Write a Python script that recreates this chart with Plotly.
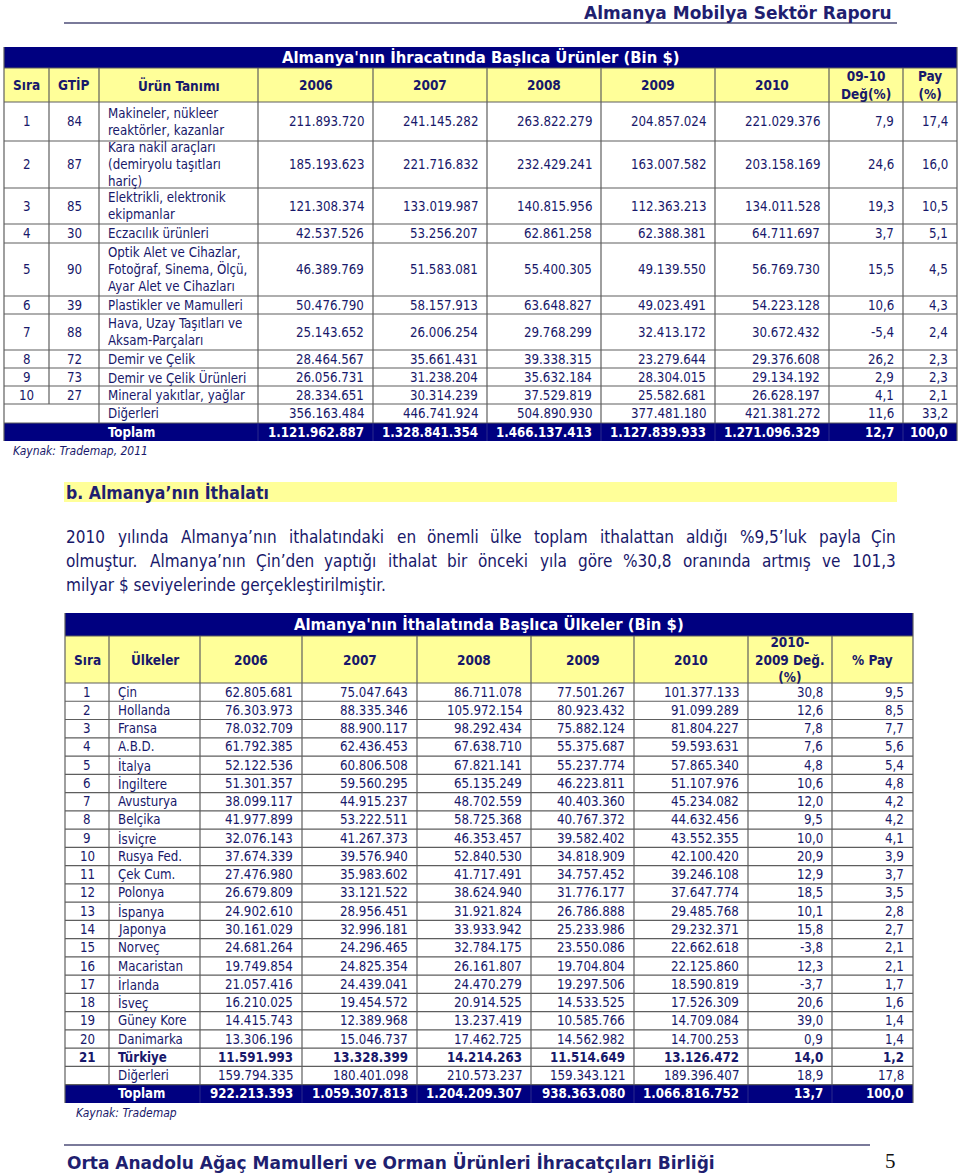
import plotly.graph_objects as go

# ---- table 1: Almanya'nın ihracatı (Bin $) ----
ex_sira = ["1", "2", "3", "4", "5", "6", "7", "8", "9", "10", "", ""]
ex_gtip = ["84", "87", "85", "30", "90", "39", "88", "72", "73", "27", "", ""]
ex_urun = ["Makineler, nükleer<br>reaktörler, kazanlar",
           "Kara nakil araçları<br>(demiryolu taşıtları<br>hariç)",
           "Elektrikli, elektronik<br>ekipmanlar",
           "Eczacılık ürünleri",
           "Optik Alet ve Cihazlar,<br>Fotoğraf, Sinema, Ölçü,<br>Ayar Alet ve Cihazları",
           "Plastikler ve Mamulleri",
           "Hava, Uzay Taşıtları ve<br>Aksam-Parçaları",
           "Demir ve Çelik",
           "Demir ve Çelik Ürünleri",
           "Mineral yakıtlar, yağlar",
           "Diğerleri",
           "Toplam"]
ex_2006 = [211893720, 185193623, 121308374, 42537526, 46389769, 50476790, 25143652, 28464567, 26056731, 28334651, 356163484, 1121962887]
ex_2007 = [241145282, 221716832, 133019987, 53256207, 51583081, 58157913, 26006254, 35661431, 31238204, 30314239, 446741924, 1328841354]
ex_2008 = [263822279, 232429241, 140815956, 62861258, 55400305, 63648827, 29768299, 39338315, 35632184, 37529819, 504890930, 1466137413]
ex_2009 = [204857024, 163007582, 112363213, 62388381, 49139550, 49023491, 32413172, 23279644, 28304015, 25582681, 377481180, 1127839933]
ex_2010 = [221029376, 203158169, 134011528, 64711697, 56769730, 54223128, 30672432, 29376608, 29134192, 26628197, 421381272, 1271096329]
ex_deg = [7.9, 24.6, 19.3, 3.7, 15.5, 10.6, -5.4, 26.2, 2.9, 4.1, 11.6, 12.7]
ex_pay = [17.4, 16.0, 10.5, 5.1, 4.5, 4.3, 2.4, 2.3, 2.3, 2.1, 33.2, 100.0]
ex_heads = ["Sıra", "GTİP", "Ürün Tanımı", "2006", "2007", "2008", "2009", "2010", "09-10<br>Değ(%)", "Pay<br>(%)"]
ex_title = "Almanya'nın İhracatında Başlıca Ürünler (Bin $)"

# ---- table 2: Almanya'nın ithalatı (Bin $) ----
im_sira = [str(i) for i in range(1, 22)] + ["", ""]
im_ulke = ["Çin", "Hollanda", "Fransa", "A.B.D.", "İtalya", "İngiltere", "Avusturya", "Belçika", "İsviçre",
           "Rusya Fed.", "Çek Cum.", "Polonya", "İspanya", "Japonya", "Norveç", "Macaristan", "İrlanda",
           "İsveç", "Güney Kore", "Danimarka", "Türkiye", "Diğerleri", "Toplam"]
im_2006 = [62805681, 76303973, 78032709, 61792385, 52122536, 51301357, 38099117, 41977899, 32076143, 37674339,
           27476980, 26679809, 24902610, 30161029, 24681264, 19749854, 21057416, 16210025, 14415743, 13306196,
           11591993, 159794335, 922213393]
im_2007 = [75047643, 88335346, 88900117, 62436453, 60806508, 59560295, 44915237, 53222511, 41267373, 39576940,
           35983602, 33121522, 28956451, 32996181, 24296465, 24825354, 24439041, 19454572, 12389968, 15046737,
           13328399, 180401098, 1059307813]
im_2008 = [86711078, 105972154, 98292434, 67638710, 67821141, 65135249, 48702559, 58725368, 46353457, 52840530,
           41717491, 38624940, 31921824, 33933942, 32784175, 26161807, 24470279, 20914525, 13237419, 17462725,
           14214263, 210573237, 1204209307]
im_2009 = [77501267, 80923432, 75882124, 55375687, 55237774, 46223811, 40403360, 40767372, 39582402, 34818909,
           34757452, 31776177, 26786888, 25233986, 23550086, 19704804, 19297506, 14533525, 10585766, 14562982,
           11514649, 159343121, 938363080]
im_2010 = [101377133, 91099289, 81804227, 59593631, 57865340, 51107976, 45234082, 44632456, 43552355, 42100420,
           39246108, 37647774, 29485768, 29232371, 22662618, 22125860, 18590819, 17526309, 14709084, 14700253,
           13126472, 189396407, 1066816752]
im_deg = [30.8, 12.6, 7.8, 7.6, 4.8, 10.6, 12.0, 9.5, 10.0, 20.9, 12.9, 18.5, 10.1, 15.8, -3.8, 12.3, -3.7,
          20.6, 39.0, 0.9, 14.0, 18.9, 13.7]
im_pay = [9.5, 8.5, 7.7, 5.6, 5.4, 4.8, 4.2, 4.2, 4.1, 3.9, 3.7, 3.5, 2.8, 2.7, 2.1, 2.1, 1.7, 1.6, 1.4, 1.4,
          1.2, 17.8, 100.0]
im_heads = ["Sıra", "Ülkeler", "2006", "2007", "2008", "2009", "2010", "2010-<br>2009 Değ.<br>(%)", "% Pay"]
im_title = "Almanya'nın İthalatında Başlıca Ülkeler (Bin $)"

page_head = "Almanya Mobilya Sektör Raporu"
page_foot = "Orta Anadolu Ağaç Mamulleri ve Orman Ürünleri İhracatçıları Birliği"
page_no = "5"
section = "b. Almanya’nın İthalatı"
para = ["2010 yılında Almanya’nın ithalatındaki en önemli ülke toplam ithalattan aldığı %9,5’luk payla Çin",
        "olmuştur. Almanya’nın Çin’den yaptığı ithalat bir önceki yıla göre %30,8 oranında artmış ve 101,3",
        "milyar $ seviyelerinde gerçekleştirilmiştir."]

# ---- styling / layout ----
NAVY = "#000080"
YELLOW = "#ffff99"
INK = "#18186a"
GRID = "#5e5e5e"
FONT = "DejaVu Sans Condensed, DejaVu Sans, sans-serif"
WIDE = "DejaVu Sans, sans-serif"
PAD = 8

shapes = []
annos = []


def tr_int(v):
    return f"{v:,}".replace(",", ".")


def tr_pct(v):
    return f"{v:.1f}".replace(".", ",")


def rect(x0, y0, x1, y1, fill):
    shapes.append(dict(type="rect", x0=x0, x1=x1, y0=y0, y1=y1, fillcolor=fill,
                       line_width=0, layer="below"))


def line(x0, y0, x1, y1, color=GRID, width=1.2):
    shapes.append(dict(type="line", x0=x0, x1=x1, y0=y0, y1=y1,
                       line=dict(color=color, width=width)))


def text(x, y, s, anchor="center", size=13, color=INK, bold=False, italic=False, family=FONT):
    annos.append(dict(x=x, y=y, text=f"<b>{s}</b>" if bold else s, xanchor=anchor, yanchor="middle",
                      align=anchor, showarrow=False, borderpad=0,
                      font=dict(family=family, size=size, color=color,
                                style="italic" if italic else "normal")))


def draw_table(xs, top, title_h, head_h, heights, title, heads, cols, aligns,
               bold_rows=(), merged_first=False, sum_from=2):
    y_head = top + title_h
    y_rows = y_head + head_h
    bounds = [y_rows]
    for h in heights:
        bounds.append(bounds[-1] + h)
    n = len(heights)
    rect(xs[0], top, xs[-1], y_head, NAVY)
    rect(xs[0], y_head, xs[-1], y_rows, YELLOW)
    rect(xs[0], bounds[n - 1], xs[-1], bounds[n], NAVY)
    for y in [y_head] + bounds[:n]:
        line(xs[0], y, xs[-1], y)
    for i, x in enumerate(xs):
        if i == 0 or i == len(xs) - 1:
            line(x, top, x, bounds[n])
            continue
        end = bounds[n - 2] if (merged_first and i == 1) else bounds[n - 1]
        line(x, y_head, x, end)
        if i >= sum_from:
            line(x, bounds[n - 1], x, bounds[n], "#2b2b8c", 1)
    text((xs[0] + xs[-1]) / 2, (top + y_head) / 2, title, size=16.5, color="white", bold=True)
    for j, h in enumerate(heads):
        text((xs[j] + xs[j + 1]) / 2, (y_head + y_rows) / 2, h, size=13.5, bold=True)
    for r in range(n):
        yc = (bounds[r] + bounds[r + 1]) / 2
        total = r == n - 1
        for j, col in enumerate(cols):
            s = col[r]
            if s == "":
                continue
            a = aligns[j]
            if a == "center":
                x = (xs[j] + xs[j + 1]) / 2
            elif a == "left":
                x = xs[j] + PAD
            else:
                x = xs[j + 1] - PAD
            text(x, yc, s, a, 13.2, "white" if total else INK, bold=total or r in bold_rows)
    return bounds[n]


# rough glyph widths (em) for justifying the paragraph
NARROW = set("iılIjf.,’'!:;|")
SEMI = set("trJ()-")
WIDEG = set("mwMW%")


def word_w(w, size):
    em = 0
    for c in w:
        if c in NARROW:
            em += 0.27
        elif c in SEMI:
            em += 0.38
        elif c in WIDEG:
            em += 0.88
        elif c.isupper() or c.isdigit() or c == "$":
            em += 0.62
        else:
            em += 0.56
    return em * size


def justify(s, x0, x1, y, size):
    words = s.split()
    ws = [word_w(w, size) for w in words]
    gap = (x1 - x0 - sum(ws)) / (len(words) - 1)
    pos = x0
    for k, (w, wd) in enumerate(zip(words, ws)):
        if k == 0:
            text(x0, y, w, "left", size)
        elif k == len(words) - 1:
            text(x1, y, w, "right", size)
        else:
            text(pos + wd / 2, y, w, "center", size)
        pos += wd + gap


# page header / footer
text(893, 13, page_head, "right", 17, "#1f1f70", bold=True, family=WIDE)
line(64, 23, 897, 23, "#7a7a9a", 2.2)
line(64, 1145, 870, 1145, "#7a7a9a", 2.2)
text(66, 1162, page_foot, "left", 17, "#1f1f70", bold=True, family=WIDE)
text(890, 1161, page_no, "center", 21, "#111111", family="Liberation Serif, serif")

# table 1
xs1 = [4, 49, 99, 258, 373, 487, 601, 715, 829, 903, 957]
rh1 = [39, 47, 36, 19, 53, 18, 36, 18, 18, 18, 19, 18]
cols1 = [ex_sira, ex_gtip, ex_urun] + [[tr_int(v) for v in c] for c in (ex_2006, ex_2007, ex_2008, ex_2009, ex_2010)] \
        + [[tr_pct(v) for v in ex_deg], [tr_pct(v) for v in ex_pay]]
al1 = ["center", "center", "left"] + ["right"] * 7
b1 = draw_table(xs1, 47, 21, 34, rh1, ex_title, ex_heads, cols1, al1, merged_first=True, sum_from=3)
text(12, b1 + 10, "Kaynak: Trademap, 2011", "left", 12, INK, italic=True)

# section b
rect(64, 482, 897, 502, YELLOW)
text(65, 492, section, "left", 17.5, "#1f1f70", bold=True)
for k, s in enumerate(para):
    if k < len(para) - 1:
        justify(s, 65, 897, 537 + 24 * k, 17)
    else:
        text(65, 537 + 24 * k, s, "left", 17)

# table 2
xs2 = [65, 109, 200, 302, 417, 531, 634, 748, 832, 913]
rh2 = [18.26] * len(im_ulke)
cols2 = [im_sira, im_ulke] + [[tr_int(v) for v in c] for c in (im_2006, im_2007, im_2008, im_2009, im_2010)] \
        + [[tr_pct(v) for v in im_deg], [tr_pct(v) for v in im_pay]]
al2 = ["center", "left"] + ["right"] * 7
b2 = draw_table(xs2, 613, 23, 47, rh2, im_title, im_heads, cols2, al2, bold_rows=(20,), sum_from=2)
text(75, b2 + 10, "Kaynak: Trademap", "left", 12, INK, italic=True)

fig = go.Figure()
fig.update_layout(
    width=960, height=1176,
    margin=dict(l=0, r=0, t=0, b=0),
    paper_bgcolor="white", plot_bgcolor="white",
    xaxis=dict(range=[0, 960], visible=False, fixedrange=True),
    yaxis=dict(range=[1176, 0], visible=False, fixedrange=True),
    shapes=shapes, annotations=annos,
    showlegend=False,
)
# drop the browser's default 8px body margin so the page lines up with the window
fig.write_html("out.html", config={"displayModeBar": False},
               post_script="document.body.style.margin='0';")
